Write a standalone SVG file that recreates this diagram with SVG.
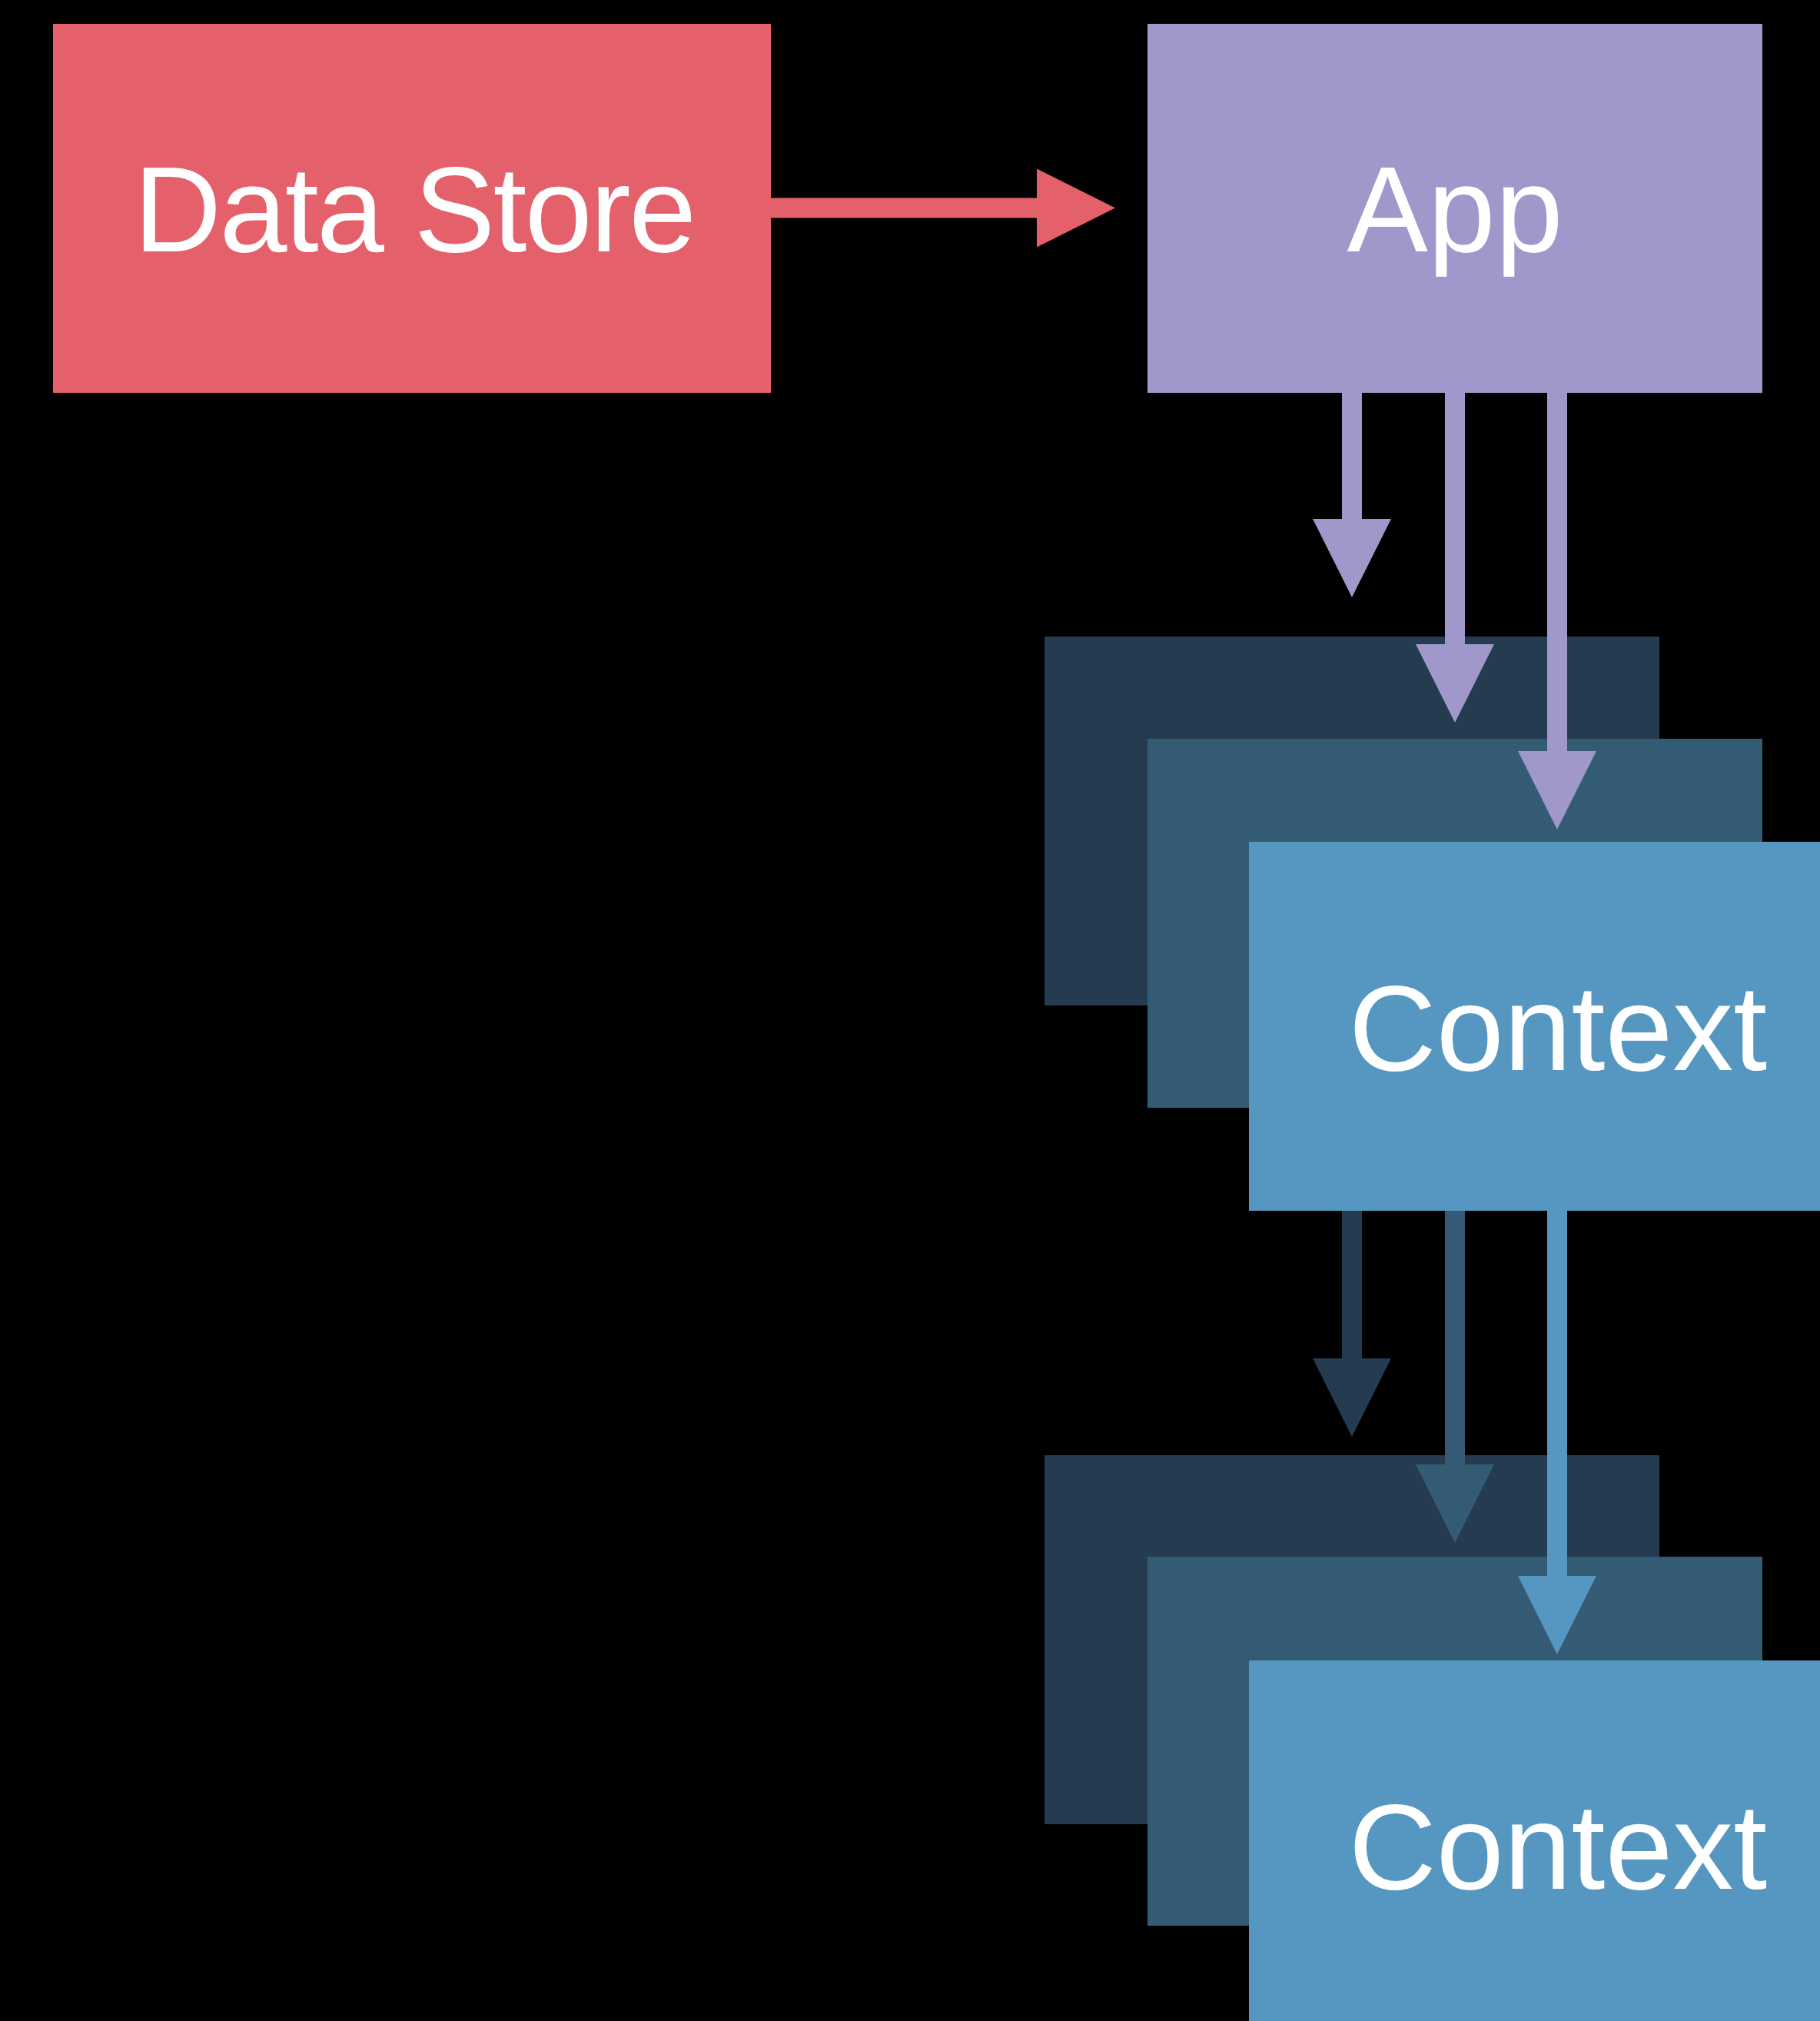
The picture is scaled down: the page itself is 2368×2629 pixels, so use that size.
<svg xmlns="http://www.w3.org/2000/svg" width="2368" height="2629" viewBox="0 0 2368 2629">
<style>
.lbl{font-family:"Liberation Sans",Arial,"Helvetica Neue",sans-serif;font-size:158px;fill:#ffffff;text-anchor:middle}
.red{fill:#E4616B}.purple{fill:#A098CB}.dark{fill:#253B50}.mid{fill:#345B74}.light{fill:#5597C1}
.c{fill:none;stroke-width:26;stroke-linecap:butt}
</style>
<defs>
<marker id="m-red" markerUnits="userSpaceOnUse" markerWidth="102" markerHeight="102" refX="0" refY="51" orient="auto" viewBox="0 0 102 102"><path d="M0,0 L102,51 L0,102 Z" fill="#E4616B"/></marker>
<marker id="m-purple" markerUnits="userSpaceOnUse" markerWidth="102" markerHeight="102" refX="0" refY="51" orient="auto" viewBox="0 0 102 102"><path d="M0,0 L102,51 L0,102 Z" fill="#A098CB"/></marker>
<marker id="m-dark" markerUnits="userSpaceOnUse" markerWidth="102" markerHeight="102" refX="0" refY="51" orient="auto" viewBox="0 0 102 102"><path d="M0,0 L102,51 L0,102 Z" fill="#253B50"/></marker>
<marker id="m-mid" markerUnits="userSpaceOnUse" markerWidth="102" markerHeight="102" refX="0" refY="51" orient="auto" viewBox="0 0 102 102"><path d="M0,0 L102,51 L0,102 Z" fill="#345B74"/></marker>
<marker id="m-light" markerUnits="userSpaceOnUse" markerWidth="102" markerHeight="102" refX="0" refY="51" orient="auto" viewBox="0 0 102 102"><path d="M0,0 L102,51 L0,102 Z" fill="#5597C1"/></marker>
</defs>
<rect x="0" y="0" width="2368" height="2629" fill="#000000"/>
<g id="data-store">
<rect class="red" x="69" y="31" width="934" height="480"/>
<text class="lbl" x="540" y="327" textLength="732" lengthAdjust="spacing">Data Store</text>
</g>
<g id="app">
<rect class="purple" x="1493" y="31" width="800" height="480"/>
<text class="lbl" x="1893" y="327">App</text>
</g>
<g id="context-1-back">
<rect class="dark" x="1359" y="828" width="800" height="480"/>
</g>
<g id="context-1-middle">
<rect class="mid" x="1493" y="961" width="800" height="480"/>
</g>
<g id="context-1">
<rect class="light" x="1625" y="1095" width="800" height="480"/>
<text class="lbl" x="2027" y="1392">Context</text>
</g>
<g id="context-2-back">
<rect class="dark" x="1359" y="1893" width="800" height="480"/>
</g>
<g id="context-2-middle">
<rect class="mid" x="1493" y="2025" width="800" height="480"/>
</g>
<g id="context-2">
<rect class="light" x="1625" y="2160" width="800" height="480"/>
<text class="lbl" x="2027" y="2457">Context</text>
</g>
<g id="connectors">
<path class="c" stroke="#E4616B" stroke-width="27" d="M1003,270.5 L1349,270.5" marker-end="url(#m-red)"/>
<path class="c" stroke="#A098CB" d="M1759,511 L1759,675" marker-end="url(#m-purple)"/>
<path class="c" stroke="#A098CB" d="M1893,511 L1893,838" marker-end="url(#m-purple)"/>
<path class="c" stroke="#A098CB" d="M2026,511 L2026,977" marker-end="url(#m-purple)"/>
<path class="c" stroke="#253B50" d="M1759,1575 L1759,1767" marker-end="url(#m-dark)"/>
<path class="c" stroke="#345B74" d="M1893,1575 L1893,1905" marker-end="url(#m-mid)"/>
<path class="c" stroke="#5597C1" d="M2026,1575 L2026,2050" marker-end="url(#m-light)"/>
</g>
</svg>
